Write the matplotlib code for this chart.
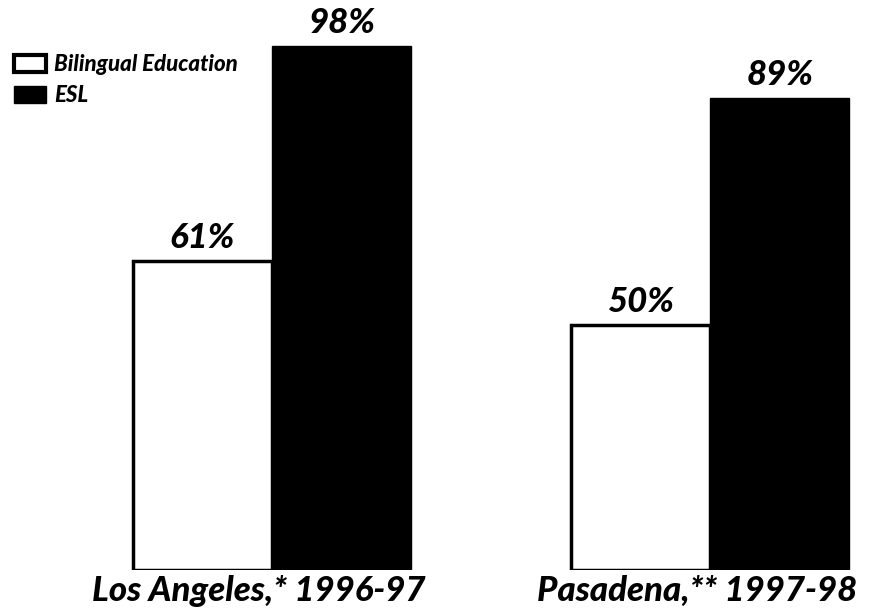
import matplotlib.pyplot as plt
import matplotlib.transforms as mtransforms
from matplotlib.patches import Patch

groups = ["Los Angeles,* 1996-97", "Pasadena,** 1997-98"]
series = ["Bilingual Education", "ESL"]
bilingual = [61, 50]
esl = [98, 89]

FONT = dict(family=["Lato", "DejaVu Sans"], weight="black", style="italic")

fig = plt.figure(figsize=(8.81, 6.09), dpi=100)
ax = fig.add_axes([0, 39 / 609, 1, 570 / 609])

base = 7.8  # the drawn baseline does not sit at zero
ax.set_ylim(base, base + 570 / 5.81)
ax.set_xlim(-0.621, 1.39)

w = 0.318
x = list(range(len(groups)))
b1 = ax.bar([i - w / 2 for i in x], [v - base for v in bilingual], w, bottom=base,
            color="white", edgecolor="black", linewidth=2.5)
b2 = ax.bar([i + w / 2 for i in x], [v - base for v in esl], w, bottom=base,
            color="black", edgecolor="black", linewidth=1)

for bars, vals in ((b1, bilingual), (b2, esl)):
    for rect, v in zip(bars, vals):
        ax.annotate(f"{v}%", (rect.get_x() + rect.get_width() / 2, v),
                    xytext=(0, 5), textcoords="offset points",
                    ha="center", va="bottom", fontsize=25, **FONT)

trans = mtransforms.blended_transform_factory(ax.transData, fig.transFigure)
for i, g in zip(x, groups):
    ax.text(i - 0.03, 0.003, g, transform=trans, ha="center", va="bottom",
            fontsize=25, **FONT)

handles = [Patch(facecolor="white", edgecolor="black", linewidth=3),
           Patch(facecolor="black", edgecolor="black")]
ax.legend(handles, series, loc="upper left", bbox_to_anchor=(0.006, 0.92),
          frameon=False, handlelength=1.45, handleheight=0.8, handletextpad=0.35,
          labelspacing=0.45, borderaxespad=0, prop=dict(size=16, **FONT))

ax.axis("off")
fig.savefig("out.png", dpi=100)
